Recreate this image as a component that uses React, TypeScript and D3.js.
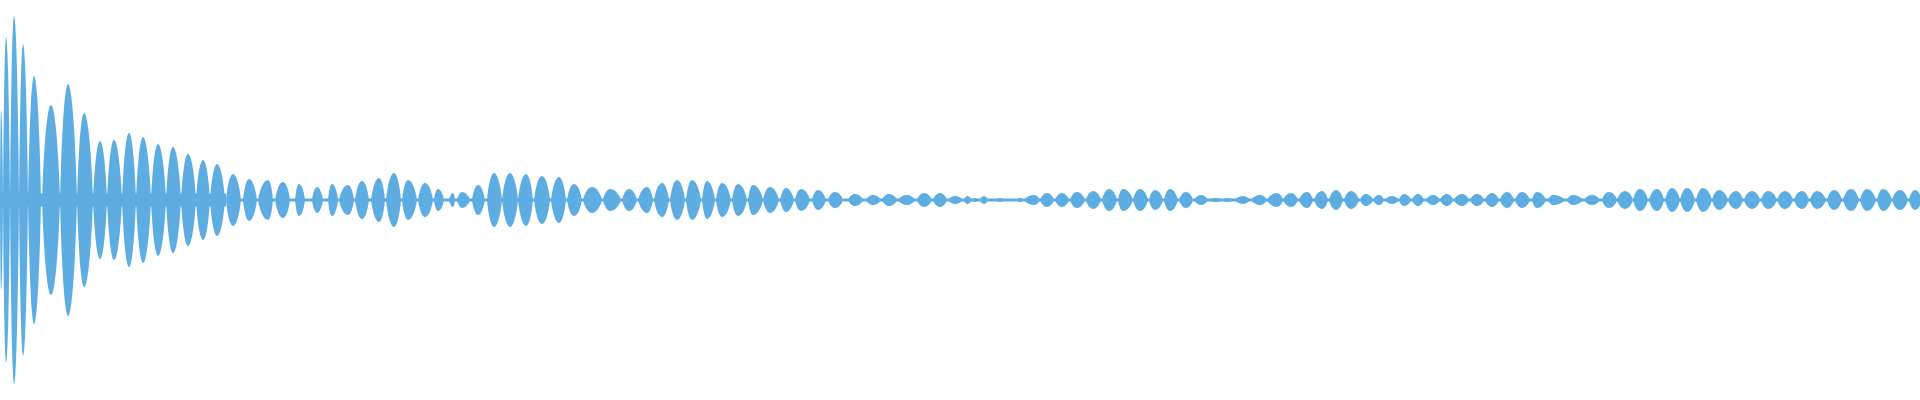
import React from "react";
import * as d3 from "d3";

// waveform of a decaying tone, envelope read lobe by lobe (time in ms, level normalised to full scale)
const DURATION_MS = 9600;

const lobeStart = [
  0, 15, 50, 95, 140, 210, 300, 385, 465, 535, 610, 680, 755, 830, 905, 980, 1050, 1130, 1215, 1290,
  1375, 1475, 1560, 1640, 1695, 1775, 1855, 1930, 2010, 2090, 2170, 2245, 2285, 2360, 2435, 2510, 2590, 2670, 2755, 2835,
  2915, 3015, 3110, 3190, 3270, 3350, 3430, 3510, 3580, 3660, 3740, 3815, 3900, 3975, 4060, 4140, 4240, 4330, 4410, 4490,
  4585, 4665, 4740, 4820, 4860, 4900, 4985, 5085, 5120, 5200, 5275, 5350, 5430, 5510, 5590, 5665, 5745, 5820, 5895, 5970,
  6045, 6115, 6175, 6255, 6335, 6415, 6495, 6570, 6645, 6720, 6800, 6865, 6925, 6995, 7060, 7130, 7200, 7270, 7350, 7425,
  7500, 7575, 7660, 7740, 7835, 7920, 8010, 8085, 8165, 8245, 8325, 8400, 8480, 8560, 8640, 8720, 8805, 8885, 8970, 9050,
  9135, 9215, 9300, 9385, 9460, 9545,
];

const lobePeakAt = [
  5, 30, 70, 115, 170, 255, 340, 420, 500, 570, 645, 715, 790, 865, 940, 1015, 1085, 1165, 1245, 1340,
  1415, 1495, 1585, 1660, 1740, 1810, 1895, 1970, 2040, 2125, 2190, 2265, 2310, 2390, 2470, 2550, 2630, 2710, 2795, 2870,
  2960, 3050, 3145, 3235, 3310, 3385, 3460, 3535, 3610, 3690, 3765, 3850, 3930, 4005, 4090, 4175, 4275, 4365, 4445, 4535,
  4620, 4700, 4775, 4835, 4875, 4920, 5000, 5100, 5170, 5235, 5310, 5385, 5465, 5545, 5615, 5700, 5775, 5850, 5930, 6005,
  6075, 6135, 6215, 6300, 6385, 6455, 6535, 6610, 6680, 6755, 6830, 6895, 6960, 7020, 7090, 7165, 7235, 7310, 7385, 7460,
  7535, 7610, 7685, 7765, 7865, 7960, 8045, 8125, 8200, 8285, 8360, 8435, 8515, 8595, 8680, 8760, 8840, 8925, 9010, 9085,
  9170, 9255, 9335, 9415, 9500, 9575,
];

const lobeEnd = [
  15, 50, 95, 140, 205, 300, 385, 465, 535, 610, 680, 755, 830, 905, 980, 1050, 1125, 1205, 1285, 1365,
  1450, 1525, 1615, 1690, 1770, 1845, 1925, 2005, 2085, 2165, 2220, 2275, 2350, 2425, 2510, 2590, 2665, 2750, 2830, 2910,
  3010, 3105, 3185, 3265, 3345, 3425, 3505, 3575, 3655, 3735, 3815, 3895, 3970, 4050, 4130, 4215, 4315, 4405, 4485, 4575,
  4660, 4735, 4815, 4860, 4890, 4940, 5015, 5115, 5200, 5270, 5345, 5425, 5505, 5585, 5665, 5740, 5815, 5890, 5965, 6040,
  6110, 6165, 6250, 6335, 6415, 6490, 6565, 6640, 6715, 6795, 6865, 6920, 6995, 7055, 7120, 7200, 7265, 7345, 7420, 7495,
  7570, 7650, 7730, 7825, 7915, 8000, 8085, 8165, 8240, 8320, 8400, 8475, 8560, 8640, 8715, 8800, 8885, 8965, 9045, 9130,
  9210, 9295, 9380, 9460, 9540, 9610,
];

const lobeLevel = [
  0.45, 0.815, 0.92, 0.78, 0.62, 0.475, 0.58, 0.435, 0.295, 0.3, 0.335, 0.315, 0.28, 0.265, 0.23, 0.2, 0.18, 0.13, 0.105, 0.1,
  0.09, 0.08, 0.065, 0.08, 0.075, 0.095, 0.11, 0.135, 0.1, 0.085, 0.055, 0.035, 0.04, 0.075, 0.135, 0.135, 0.13, 0.12, 0.115, 0.08,
  0.065, 0.055, 0.055, 0.065, 0.085, 0.1, 0.1, 0.095, 0.085, 0.08, 0.075, 0.065, 0.06, 0.055, 0.05, 0.04, 0.03, 0.025, 0.03, 0.025,
  0.035, 0.035, 0.02, 0.02, 0.01, 0.02, 0.01, 0.01, 0.025, 0.035, 0.035, 0.04, 0.045, 0.055, 0.055, 0.055, 0.05, 0.055, 0.04, 0.025,
  0.01, 0.01, 0.02, 0.025, 0.035, 0.035, 0.04, 0.045, 0.05, 0.045, 0.03, 0.025, 0.02, 0.03, 0.03, 0.025, 0.03, 0.03, 0.03, 0.035,
  0.04, 0.04, 0.04, 0.025, 0.025, 0.025, 0.04, 0.045, 0.055, 0.055, 0.06, 0.06, 0.06, 0.05, 0.045, 0.045, 0.045, 0.045, 0.045, 0.045,
  0.05, 0.055, 0.055, 0.055, 0.05, 0.05,
];

// low level hum between the lobes
const floorStart = [0, 1130];
const floorEnd = [1130, DURATION_MS];
const floorLevel = [0.0325, 0.0075];

const WIDTH = 1920;
const HEIGHT = 400;
const COLOR = "#5dade2";

// lemon shaped lobe: pointed ends, round shoulder
function lobePath(x0: number, xc: number, x1: number, cy: number, h: number) {
  const p = d3.path();
  const ql = xc - x0;
  const qr = x1 - xc;
  const a = 0.2;
  const b = 0.58;
  const c = 0.42;
  p.moveTo(x0, cy);
  p.bezierCurveTo(x0 + ql * a, cy - h * b, xc - ql * c, cy - h, xc, cy - h);
  p.bezierCurveTo(xc + qr * c, cy - h, x1 - qr * a, cy - h * b, x1, cy);
  p.bezierCurveTo(x1 - qr * a, cy + h * b, xc + qr * c, cy + h, xc, cy + h);
  p.bezierCurveTo(xc - ql * c, cy + h, x0 + ql * a, cy + h * b, x0, cy);
  p.closePath();
  return p.toString();
}

export default function App() {
  const x = d3.scaleLinear().domain([0, DURATION_MS]).range([0, WIDTH]);
  const y = d3.scaleLinear().domain([-1, 1]).range([HEIGHT, 0]);
  const cy = y(0);

  return (
    <svg
      width={WIDTH}
      height={HEIGHT}
      style={{ position: "absolute", left: 0, top: 0, display: "block", background: "#fff" }}
    >
      <g fill={COLOR}>
        {floorStart.map((s, i) => (
          <rect
            key={"f" + i}
            x={x(s)}
            width={x(floorEnd[i]) - x(s)}
            y={y(floorLevel[i])}
            height={y(-floorLevel[i]) - y(floorLevel[i])}
          />
        ))}
        {lobeStart.map((s, i) => (
          <path
            key={i}
            d={lobePath(x(s), x(lobePeakAt[i]), x(lobeEnd[i]), cy, cy - y(lobeLevel[i]))}
          />
        ))}
      </g>
    </svg>
  );
}
